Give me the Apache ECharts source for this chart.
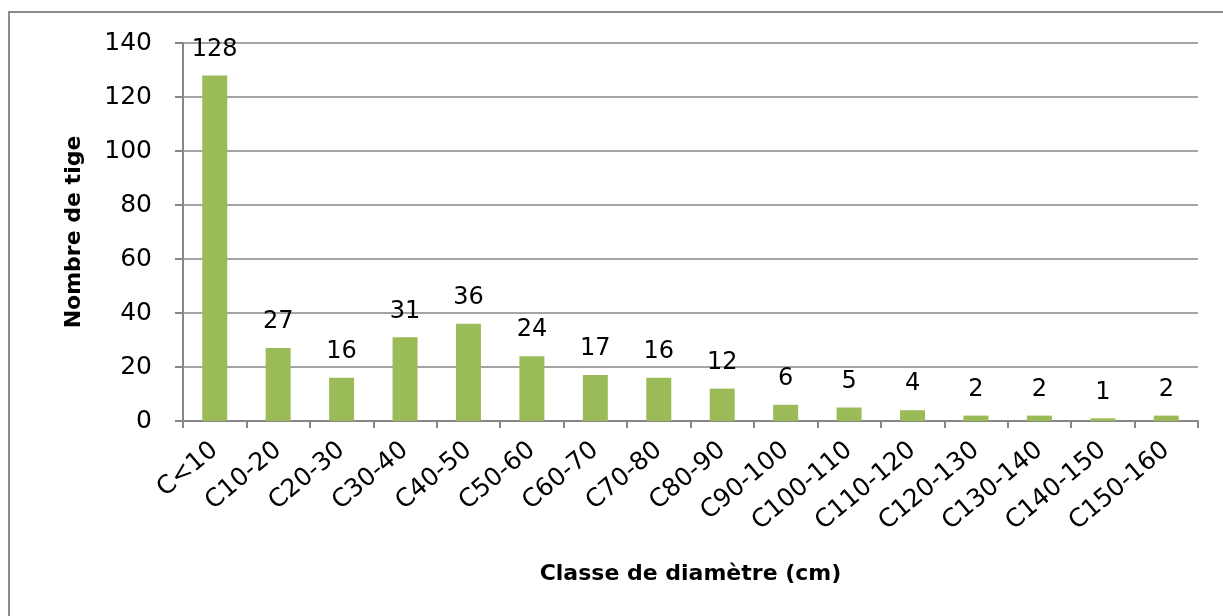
<!DOCTYPE html>
<html>
<head>
<meta charset="utf-8">
<script src="https://cdn.jsdelivr.net/npm/echarts@6/dist/echarts.min.js"></script>
<style>
  html, body { margin: 0; padding: 0; background: #fff; overflow: hidden; }
  #frame { position: absolute; left: 8px; top: 11px; width: 1240px; height: 640px; border: 2px solid #8c8c8c; box-sizing: border-box; }
  #chart { position: absolute; left: 0; top: 0; width: 1223px; height: 616px; }
</style>
</head>
<body>
<div id="frame"></div>
<div id="chart"></div>
<script>
// diameter classes and stem counts
const categories = ['C<10', 'C10-20', 'C20-30', 'C30-40', 'C40-50', 'C50-60', 'C60-70', 'C70-80',
  'C80-90', 'C90-100', 'C100-110', 'C110-120', 'C120-130', 'C130-140', 'C140-150', 'C150-160']
const stems = [128, 27, 16, 31, 36, 24, 17, 16, 12, 6, 5, 4, 2, 2, 1, 2]
const yTicks = [0, 20, 40, 60, 80, 100, 120, 140]

const chart = echarts.init(document.getElementById('chart'))
const gray = '#868686'
const font = 'DejaVu Sans'

chart.setOption({
  animation: false,
  grid: { left: 183, right: 25, top: 43, bottom: 195 },
  xAxis: {
    type: 'category',
    data: categories,
    name: 'Classe de diamètre (cm)',
    nameLocation: 'middle',
    nameGap: 142,
    nameTextStyle: { fontFamily: font, fontWeight: 'bold', fontSize: 22, color: '#000' },
    axisLine: { lineStyle: { color: gray, width: 2 } },
    axisTick: { show: true, length: 7, lineStyle: { color: gray, width: 2 } },
    axisLabel: { rotate: 40, fontFamily: font, fontSize: 25, color: '#000', margin: 26, interval: 0 }
  },
  yAxis: {
    type: 'value',
    min: 0,
    max: 140,
    interval: 20,
    name: 'Nombre de tige',
    nameLocation: 'middle',
    nameGap: 98,
    nameTextStyle: { fontFamily: font, fontWeight: 'bold', fontSize: 22, color: '#000' },
    axisLine: { show: true, lineStyle: { color: gray, width: 2 } },
    axisTick: { show: true, length: 8, lineStyle: { color: gray, width: 2 } },
    splitLine: { lineStyle: { color: gray, width: 1.5 } },
    axisLabel: {
      fontFamily: font, fontSize: 25, color: '#000', margin: 31,
      formatter: v => yTicks.includes(v) ? String(v) : ''
    }
  },
  series: [{
    type: 'bar',
    data: stems,
    barWidth: 25,
    itemStyle: { color: '#9BBB59' },
    label: {
      show: true,
      position: 'top',
      distance: 14,
      fontFamily: font,
      fontSize: 24,
      color: '#000'
    }
  }]
})
</script>
</body>
</html>
